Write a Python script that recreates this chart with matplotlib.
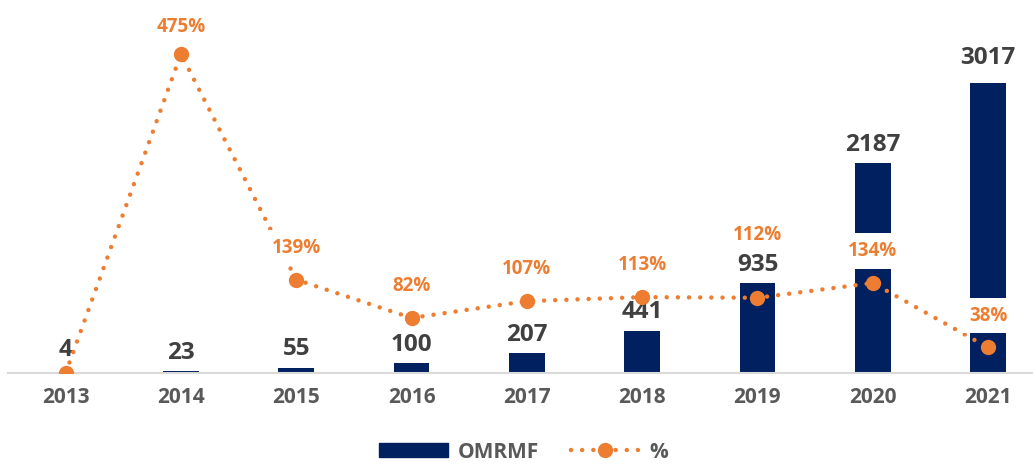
import numpy as np
import matplotlib
matplotlib.use("Agg")
import matplotlib.pyplot as plt
from matplotlib.lines import Line2D
from matplotlib.patches import Patch

plt.rcParams['font.family'] = ['Open Sans', 'DejaVu Sans']
plt.rcParams['font.weight'] = 'bold'

# data
years = ['2013', '2014', '2015', '2016', '2017', '2018', '2019', '2020', '2021']
omrmf = [4, 23, 55, 100, 207, 441, 935, 2187, 3017]
pct = [0, 475, 139, 82, 107, 113, 112, 134, 38]
pct_labels = ['', '475%', '139%', '82%', '107%', '113%', '112%', '134%', '38%']

navy = '#002060'
orange = '#ED7D31'
grey = '#595959'
dark = '#404040'

fig = plt.figure(figsize=(10.33, 4.65), dpi=100)
ax = fig.add_axes([8 / 1033, 92 / 465, 1025 / 1033, 373 / 465])
x = np.arange(len(years))

ax.bar(x, omrmf, width=0.31, color=navy, zorder=1)
bar_lift = {0: 8, 8: 9}
for i, (xi, v) in enumerate(zip(x, omrmf)):
    ax.annotate(str(v), (xi, v), xytext=(0, bar_lift.get(i, 4.5)), textcoords='offset points',
                ha='center', va='bottom', fontsize=17.5, color=dark, fontweight='bold')

ax.set_xlim(-0.5, -0.5 + 1025 / 115.3)
ax.set_ylim(0, 3880)
ax.set_xticks(x)
ax.set_xticklabels(years, fontsize=15, color=grey, fontweight='bold')
ax.tick_params(axis='x', length=0, pad=10)
ax.set_yticks([])
for s in ['top', 'right', 'left']:
    ax.spines[s].set_visible(False)
ax.spines['bottom'].set_color('#D9D9D9')
ax.spines['bottom'].set_linewidth(1.5)

ax2 = ax.twinx()
ax2.set_ylim(0, 555.4)
ax2.set_yticks([])
for s in ax2.spines.values():
    s.set_visible(False)
ax2.plot(x, pct, color=orange, lw=3.2, linestyle=(0, (0.01, 2.5)),
         dash_capstyle='round', zorder=3)
ax2.plot(x, pct, 'o', color=orange, markersize=10, zorder=4)

# label offsets in points (excel nudged a couple of them)
lift = {1: 19.5, 6: 45.5}
for i, (xi, v, lab) in enumerate(zip(x, pct, pct_labels)):
    if lab:
        ax2.annotate(lab, (xi, v), xytext=(0, lift.get(i, 23)), textcoords='offset points',
                     ha='center', va='center', fontsize=13.5, color=orange,
                     fontweight='bold', zorder=5,
                     bbox=dict(boxstyle='square,pad=0.42', fc='white', ec='none'))

handles = [Patch(color=navy),
           Line2D([0], [0], color=orange, lw=3.2, linestyle=(0, (0.01, 2.5)),
                  dash_capstyle='round', marker='o', markersize=10)]
leg = fig.legend(handles, ['OMRMF', '%'], loc='lower center', ncol=2,
                 bbox_to_anchor=(0.507, -0.035), frameon=False, fontsize=15,
                 handlelength=3.3, handleheight=0.65, columnspacing=1.5,
                 handletextpad=0.5)
for t in leg.get_texts():
    t.set_color(grey)
    t.set_fontweight('bold')

fig.savefig('out.png', dpi=100)
